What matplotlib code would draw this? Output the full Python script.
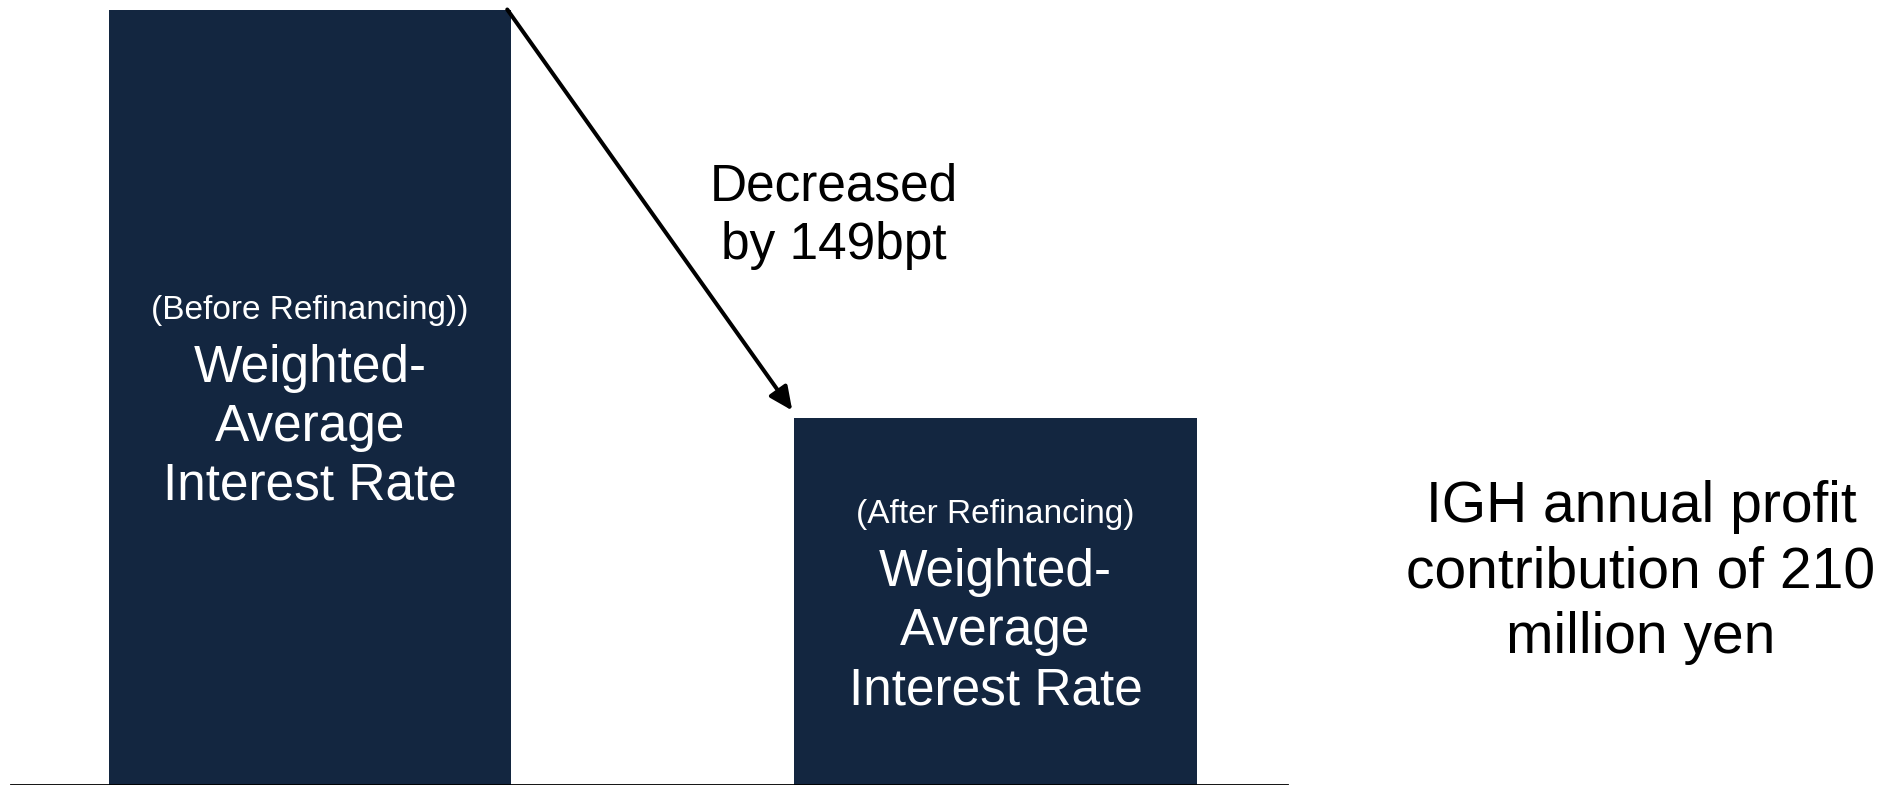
import matplotlib
matplotlib.use("Agg")
import matplotlib.pyplot as plt

plt.rcParams["font.family"] = ["Liberation Sans", "DejaVu Sans"]

# Weighted-average interest rate (%) before/after refinancing
stages = ["Before Refinancing", "After Refinancing"]
decrease_bpt = 149
rate_before = 2.83
rates = [rate_before, rate_before - decrease_bpt / 100.0]
bar_notes = ["(Before Refinancing))", "(After Refinancing)"]
bar_title = "Weighted-\nAverage\nInterest Rate"
change_label = f"Decreased\nby {decrease_bpt}bpt"
profit_label = "IGH annual profit\ncontribution of 210\nmillion yen"

BAR_COLOR = "#132640"
W_PX, H_PX, DPI = 1897, 785, 100

fig = plt.figure(figsize=(W_PX / DPI, H_PX / DPI), dpi=DPI)
ax = fig.add_axes([0, 0, 1, 1])

# pixel geometry of the plotting frame
x0_px, step_px = 310.0, 685.5          # first bar centre, bar spacing
base_px, top_px = 784.5, 9.5           # baseline and top of tallest bar (from top)
px_per_unit = (base_px - top_px) / max(rates)
ax.set_xlim(-x0_px / step_px, (W_PX - x0_px) / step_px)
ax.set_ylim(-(H_PX - base_px) / px_per_unit, max(rates) + top_px / px_per_unit)
ax.axis("off")

xs = list(range(len(stages)))
width = 402.5 / step_px
ax.bar(xs, rates, width=width, color=BAR_COLOR, zorder=2)

# baseline
ax.axhline(0, xmin=11 / W_PX, xmax=1288 / W_PX, color="black", lw=1.3, zorder=3)

# labels inside bars (multi-line text: 'baseline' refers to the last line)
for x, r, note in zip(xs, rates, bar_notes):
    ax.annotate(note, xy=(x, r / 2), xytext=(0, 78), textcoords="offset pixels",
                ha="center", va="baseline", color="white", fontsize=24)
    ax.annotate(bar_title, xy=(x, r / 2), xytext=(0, -103), textcoords="offset pixels",
                ha="center", va="baseline", color="white", fontsize=37,
                linespacing=1.26)

# arrow from the top of the first bar down to the second
start = (xs[0] + width / 2 - 4 / step_px, rates[0])
end = (xs[1] - width / 2 - 2 / step_px, rates[1] + 7 / px_per_unit)
ax.annotate("", xy=end, xytext=start,
            arrowprops=dict(arrowstyle="-|>,head_length=1.4,head_width=0.65",
                            lw=2.9, color="black", shrinkA=0, shrinkB=0,
                            mutation_scale=10),
            zorder=4)

fig.text(834 / W_PX, 1 - 259 / H_PX, change_label, ha="center", va="baseline",
         fontsize=37, color="black", linespacing=1.26)
fig.text(1641 / W_PX, 1 - 653 / H_PX, profit_label, ha="center", va="baseline",
         fontsize=41, color="black", linespacing=1.27)

fig.savefig("out.png", dpi=DPI, facecolor="white")
